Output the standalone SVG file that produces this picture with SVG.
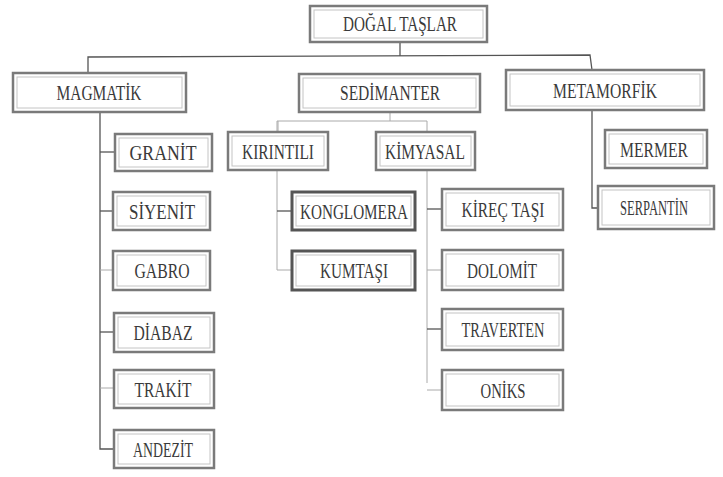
<svg xmlns="http://www.w3.org/2000/svg" width="723" height="477" viewBox="0 0 723 477">
<style>
.bg{fill:#fff}
.box{fill:#fff;stroke:#7a7a7a;stroke-width:2.5}
.dark{stroke:#555;stroke-width:3}
.inner{fill:none;stroke:#c4c4c4;stroke-width:1}
.t{font-family:"Liberation Serif","DejaVu Serif",serif;font-size:21px;fill:#3a3a3a;text-anchor:middle}
.c{fill:none;stroke:#555;stroke-width:1.3}
.cl{fill:none;stroke:#aaa;stroke-width:1}
</style>
<rect class="bg" width="723" height="477"/>
<g id="connectors">
<polyline class="c" points="88,73 88,57 590,55 592,70"/>
<line class="c" x1="400" y1="42" x2="400" y2="56"/>
<polyline class="c" points="100,112 100,449 114,449"/>
<line class="c" x1="100" y1="152" x2="115" y2="152"/>
<line class="c" x1="100" y1="211" x2="113" y2="211"/>
<line class="cl" x1="100" y1="270" x2="113" y2="270"/>
<line class="c" x1="100" y1="332" x2="114" y2="332"/>
<line class="cl" x1="100" y1="388" x2="114" y2="388"/>
<line class="cl" x1="390" y1="113" x2="390" y2="121"/>
<polyline class="cl" points="277,270 277,121 427,121 427,132"/>
<line class="c" x1="277" y1="211" x2="292" y2="211"/>
<line class="cl" x1="277" y1="270" x2="292" y2="270"/>
<line class="cl" x1="278" y1="121" x2="278" y2="132"/>
<polyline class="cl" points="427,170 427,383"/>
<line class="c" x1="427" y1="209" x2="442" y2="209"/>
<line class="cl" x1="427" y1="270" x2="442" y2="270"/>
<line class="c" x1="427" y1="329" x2="442" y2="329"/>
<line class="cl" x1="427" y1="390" x2="442" y2="390"/>
<polyline class="c" points="592,110 592,208 598,208"/>
</g>
<g id="dogal-taslar"><rect class="box" x="310" y="6" width="177" height="36"/><rect class="inner" x="314" y="10" width="169" height="28"/><text class="t" x="400" y="31" textLength="114" lengthAdjust="spacingAndGlyphs">DOĞAL TAŞLAR</text></g>
<g id="magmatik"><rect class="box" x="13" y="73" width="173" height="39"/><rect class="inner" x="17" y="77" width="165" height="31"/><text class="t" x="99" y="100" textLength="85" lengthAdjust="spacingAndGlyphs">MAGMATİK</text></g>
<g id="sedimanter"><rect class="box" x="299" y="74" width="181" height="38"/><rect class="inner" x="303" y="78" width="173" height="30"/><text class="t" x="390" y="100" textLength="100" lengthAdjust="spacingAndGlyphs">SEDİMANTER</text></g>
<g id="metamorfik"><rect class="box" x="506" y="70" width="198" height="40"/><rect class="inner" x="510" y="74" width="190" height="32"/><text class="t" x="605" y="98" textLength="104" lengthAdjust="spacingAndGlyphs">METAMORFİK</text></g>
<g id="granit"><rect class="box" x="115" y="134" width="97" height="37"/><rect class="inner" x="119" y="138" width="89" height="29"/><text class="t" x="163" y="160" textLength="67" lengthAdjust="spacingAndGlyphs">GRANİT</text></g>
<g id="siyenit"><rect class="box" x="113" y="192" width="97" height="38"/><rect class="inner" x="117" y="196" width="89" height="30"/><text class="t" x="162" y="219" textLength="66" lengthAdjust="spacingAndGlyphs">SİYENİT</text></g>
<g id="gabro"><rect class="box" x="113" y="251" width="97" height="39"/><rect class="inner" x="117" y="255" width="89" height="31"/><text class="t" x="162" y="278" textLength="55" lengthAdjust="spacingAndGlyphs">GABRO</text></g>
<g id="diabaz"><rect class="box" x="114" y="313" width="100" height="39"/><rect class="inner" x="118" y="317" width="92" height="31"/><text class="t" x="163" y="340" textLength="59" lengthAdjust="spacingAndGlyphs">DİABAZ</text></g>
<g id="trakit"><rect class="box" x="114" y="370" width="100" height="38"/><rect class="inner" x="118" y="374" width="92" height="30"/><text class="t" x="163" y="397" textLength="57" lengthAdjust="spacingAndGlyphs">TRAKİT</text></g>
<g id="andezit"><rect class="box" x="114" y="430" width="100" height="38"/><rect class="inner" x="118" y="434" width="92" height="30"/><text class="t" x="163" y="457" textLength="60" lengthAdjust="spacingAndGlyphs">ANDEZİT</text></g>
<g id="kirintili"><rect class="box" x="228" y="132" width="100" height="38"/><rect class="inner" x="232" y="136" width="92" height="30"/><text class="t" x="278" y="159" textLength="72" lengthAdjust="spacingAndGlyphs">KIRINTILI</text></g>
<g id="kimyasal"><rect class="box" x="376" y="132" width="99" height="38"/><rect class="inner" x="380" y="136" width="91" height="30"/><text class="t" x="425" y="159" textLength="80" lengthAdjust="spacingAndGlyphs">KİMYASAL</text></g>
<g id="konglomera"><rect class="box dark" x="292" y="192" width="123" height="38"/><rect class="inner" x="296" y="196" width="115" height="30"/><text class="t" x="354" y="219" textLength="108" lengthAdjust="spacingAndGlyphs">KONGLOMERA</text></g>
<g id="kumtasi"><rect class="box dark" x="292" y="251" width="123" height="39"/><rect class="inner" x="296" y="255" width="115" height="31"/><text class="t" x="354" y="278" textLength="68" lengthAdjust="spacingAndGlyphs">KUMTAŞI</text></g>
<g id="kirec-tasi"><rect class="box" x="442" y="189" width="121" height="41"/><rect class="inner" x="446" y="193" width="113" height="33"/><text class="t" x="503" y="217" textLength="83" lengthAdjust="spacingAndGlyphs">KİREÇ TAŞI</text></g>
<g id="dolomit"><rect class="box" x="442" y="250" width="121" height="40"/><rect class="inner" x="446" y="254" width="113" height="32"/><text class="t" x="502" y="278" textLength="70" lengthAdjust="spacingAndGlyphs">DOLOMİT</text></g>
<g id="traverten"><rect class="box" x="442" y="309" width="121" height="41"/><rect class="inner" x="446" y="313" width="113" height="33"/><text class="t" x="503" y="337" textLength="83" lengthAdjust="spacingAndGlyphs">TRAVERTEN</text></g>
<g id="oniks"><rect class="box" x="442" y="370" width="121" height="40"/><rect class="inner" x="446" y="374" width="113" height="32"/><text class="t" x="503" y="398" textLength="45" lengthAdjust="spacingAndGlyphs">ONİKS</text></g>
<g id="mermer"><rect class="box" x="605" y="130" width="102" height="38"/><rect class="inner" x="609" y="134" width="94" height="30"/><text class="t" x="654" y="157" textLength="68" lengthAdjust="spacingAndGlyphs">MERMER</text></g>
<g id="serpantin"><rect class="box" x="598" y="186" width="116" height="43"/><rect class="inner" x="602" y="190" width="108" height="35"/><text class="t" x="654" y="215" textLength="68" lengthAdjust="spacingAndGlyphs">SERPANTİN</text></g>
</svg>
